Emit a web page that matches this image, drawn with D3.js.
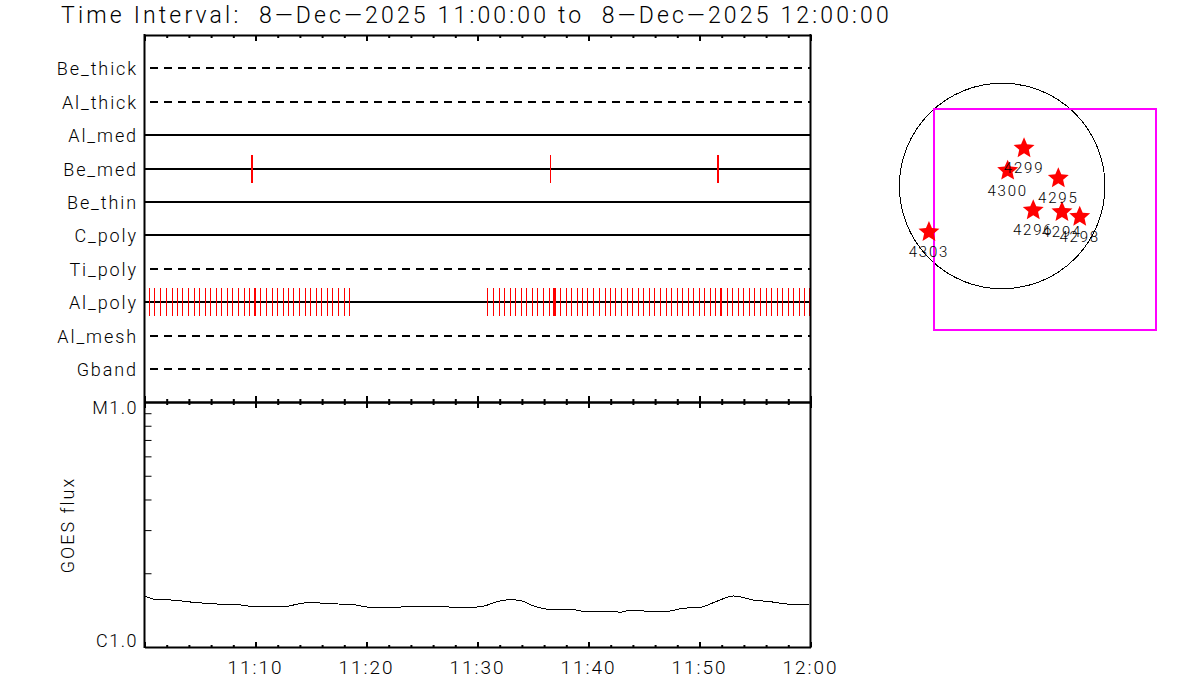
<!DOCTYPE html>
<html>
<head>
<meta charset="utf-8">
<script src="https://cdn.jsdelivr.net/npm/d3@7"></script>
<style>
  body { margin: 0; background: #fff; }
  text { font-family: "Roboto", "Liberation Sans", sans-serif; font-weight: 300; fill: #000; white-space: pre; }
  .axis path, .axis line { stroke: #000; }
  .axis text { display: none; }
</style>
</head>
<body>
<div id="chart"></div>
<script>
// time values are minutes after 11:00
var titleText = "Time Interval:  8-Dec-2025 11:00:00 to  8-Dec-2025 12:00:00".replace(/-/g, "\u2014");

var rows = ["Be_thick", "Al_thick", "Al_med", "Be_med", "Be_thin", "C_poly", "Ti_poly", "Al_poly", "Al_mesh", "Gband"];
var dashedRows = ["Be_thick", "Al_thick", "Ti_poly", "Al_mesh", "Gband"];

var beMedThick = [9.62, 9.70, 51.66, 51.72];
var beMedThin = [36.6];
var alPolyTimes = [
  0.43, 0.92, 1.42, 1.96, 2.48, 2.95, 3.44, 3.95, 4.49, 4.97, 5.48, 5.96, 6.47, 6.98, 7.50, 7.97, 8.49, 8.99, 9.44,
  9.92, 10.0, 10.43, 10.97, 11.49, 11.96, 12.48, 12.95, 13.44, 13.98, 14.46, 14.97, 15.48, 15.99, 16.47, 16.98, 17.46, 18.0, 18.49,
  30.88, 31.42, 31.96, 32.41, 32.95, 33.41, 33.95, 34.40, 34.91, 35.39, 35.93, 36.47, 36.85, 36.92, 37.0,
  37.46, 38.0, 38.45, 38.99, 39.44, 39.95, 40.43, 40.97, 41.51, 41.96, 42.47, 42.95, 43.49, 43.94, 44.48, 44.93, 45.48,
  45.93, 46.47, 47.01, 47.46, 48.0, 48.45, 48.99, 49.44, 49.98, 50.43, 50.97, 51.42, 51.90, 51.98,
  52.50, 52.95, 53.49, 53.95, 54.49, 54.94, 55.48, 56.02, 56.47, 57.01, 57.46, 58.0, 58.45, 58.99, 59.44, 59.95
];

var goesTimes = [0.05, 0.95, 2.45, 4.4, 6.5, 8.45, 9.65, 11.45, 12.8, 13.7, 15.05, 16.4, 18.5, 20.45, 22.4, 24.5, 26.45, 28.7,
  29.3, 30.5, 31.75, 32.9, 33.8, 35.0, 36.5, 38.5, 39.55, 42.25, 42.85, 43.75, 45.55, 47.05, 48.55, 50.05, 51.55, 53.05, 54.85, 56.35, 57.85, 58.75, 59.9];
var goesFlux = [1.615, 1.565, 1.555, 1.522, 1.498, 1.488, 1.466, 1.466, 1.466, 1.494, 1.522, 1.502, 1.494, 1.452, 1.452, 1.466, 1.461, 1.452,
  1.452, 1.466, 1.531, 1.56, 1.55, 1.474, 1.425, 1.425, 1.399, 1.399, 1.386, 1.412, 1.399, 1.399, 1.439, 1.452, 1.536, 1.615, 1.555, 1.531, 1.498, 1.484, 1.484];

var majorTicks = [0, 10, 20, 30, 40, 50, 60];
var minorTicks = [2, 4, 6, 8, 12, 14, 16, 18, 22, 24, 26, 28, 32, 34, 36, 38, 42, 44, 46, 48, 52, 54, 56, 58];
var timeLabels = ["", "11:10", "11:20", "11:30", "11:40", "11:50", "12:00"];
var fluxMinorTicks = [2, 3, 4, 5, 6, 7, 8, 9];

// active regions, arcsec from disk centre
var regionNames = ["4299", "4300", "4295", "4296", "4294", "4298", "4303"];
var regionX = [204, 51, 524, 290, 558, 724, -684];
var regionY = [352, 143, 72, -227, -243, -287, -430];
var sunRadius = 960;
var fovX = [-640, 1436];
var fovY = [-1345, 722];

var svg = d3.select("#chart")
  .append("svg")
  .attr("width", 1200)
  .attr("height", 700)
  .style("display", "block");

var x = d3.scaleLinear().domain([0, 60]).range([144.5, 810.5]);
var yRow = d3.scalePoint().domain(rows).range([68.2, 369.16]);
var yFlux = d3.scaleLog().domain([1, 10]).range([647, 402]);
var sunX = d3.scaleLinear().domain([-sunRadius, sunRadius]).range([899.4, 1105]);
var sunY = d3.scaleLinear().domain([-sunRadius, sunRadius]).range([288.8, 83.2]);

svg.append("text")
  .attr("x", 61)
  .attr("y", 23)
  .attr("font-size", 23)
  .attr("letter-spacing", 3.17)
  .text(titleText);

// filter rows
var rowLines = svg.append("g").attr("shape-rendering", "crispEdges");
rowLines.selectAll("line")
  .data(rows)
  .enter()
  .append("line")
  .attr("x1", x(0))
  .attr("x2", x(60))
  .attr("y1", d => Math.round(yRow(d)))
  .attr("y2", d => Math.round(yRow(d)))
  .attr("stroke", "#000")
  .attr("stroke-width", 2)
  .attr("stroke-dasharray", d => dashedRows.includes(d) ? "8,6" : null)
  .attr("stroke-dashoffset", -5);

svg.selectAll(".rowLabel")
  .data(rows)
  .enter()
  .append("text")
  .attr("class", "rowLabel")
  .attr("x", 138)
  .attr("y", d => yRow(d) + 7)
  .attr("text-anchor", "end")
  .attr("font-size", 18)
  .attr("letter-spacing", 1.9)
  .text(d => d);

// exposure marks
function drawMarks(times, row, halfHeight) {
  svg.append("g")
    .attr("shape-rendering", "crispEdges")
    .selectAll("line")
    .data(times)
    .enter()
    .append("line")
    .attr("x1", d => Math.floor(x(d)) + 0.5)
    .attr("x2", d => Math.floor(x(d)) + 0.5)
    .attr("y1", Math.round(yRow(row)) - halfHeight)
    .attr("y2", Math.round(yRow(row)) + halfHeight)
    .attr("stroke", "#f00")
    .attr("stroke-width", 1);
}
drawMarks(alPolyTimes, "Al_poly", 14);
drawMarks(beMedThick, "Be_med", 14);
drawMarks(beMedThin, "Be_med", 14);

// goes curve
var goesLine = d3.line()
  .x((d, i) => x(goesTimes[i]))
  .y(d => yFlux(d))
  .curve(d3.curveMonotoneX);

svg.append("path")
  .datum(goesFlux)
  .attr("d", goesLine)
  .attr("fill", "none")
  .attr("stroke", "#000")
  .attr("stroke-width", 1)
  .attr("shape-rendering", "crispEdges");

// axes
function timeAxis(axisFn, y, minorSize, majorSize) {
  svg.append("g")
    .attr("class", "axis")
    .attr("transform", `translate(0, ${y})`)
    .call(axisFn(x).tickValues(minorTicks).tickSize(minorSize).tickSizeOuter(0))
    .call(g => g.select(".domain").attr("stroke-width", 2))
    .call(g => g.selectAll("line").attr("stroke-width", 2));
  svg.append("g")
    .attr("class", "axis")
    .attr("transform", `translate(0, ${y})`)
    .call(axisFn(x).tickValues(majorTicks).tickSize(majorSize).tickSizeOuter(0))
    .call(g => g.select(".domain").remove())
    .call(g => g.selectAll("line").attr("stroke-width", 2));
}
timeAxis(d3.axisBottom, 35, 3, 6);
timeAxis(d3.axisTop, 402, 3, 6);
timeAxis(d3.axisBottom, 402, 3, 6);
timeAxis(d3.axisTop, 647, 2, 5);

svg.append("g")
  .attr("class", "axis")
  .attr("transform", `translate(${x(0)}, 0)`)
  .call(d3.axisRight(yFlux).tickValues(fluxMinorTicks).tickSize(7).tickSizeOuter(0))
  .call(g => g.select(".domain").remove());

[x(0), x(60)].forEach(px => {
  svg.append("line")
    .attr("x1", px).attr("x2", px)
    .attr("y1", 34).attr("y2", 648)
    .attr("stroke", "#000")
    .attr("stroke-width", 2);
});

svg.selectAll(".timeLabel")
  .data(majorTicks)
  .enter()
  .append("text")
  .attr("class", "timeLabel")
  .attr("x", d => x(d))
  .attr("y", 674)
  .attr("text-anchor", "middle")
  .attr("font-size", 19)
  .attr("letter-spacing", 2)
  .text((d, i) => timeLabels[i]);

svg.selectAll(".fluxLabel")
  .data([["M1.0", 414], ["C1.0", 647]])
  .enter()
  .append("text")
  .attr("class", "fluxLabel")
  .attr("x", 138)
  .attr("y", d => d[1])
  .attr("text-anchor", "end")
  .attr("font-size", 18)
  .attr("letter-spacing", 1.5)
  .text(d => d[0]);

svg.append("text")
  .attr("transform", "translate(74, 525) rotate(-90)")
  .attr("text-anchor", "middle")
  .attr("font-size", 18)
  .attr("letter-spacing", 2)
  .text("GOES flux");

// sun disk
svg.append("circle")
  .attr("cx", sunX(0))
  .attr("cy", sunY(0))
  .attr("r", sunX(sunRadius) - sunX(0))
  .attr("fill", "none")
  .attr("stroke", "#000")
  .attr("stroke-width", 1)
  .attr("shape-rendering", "crispEdges");

svg.append("rect")
  .attr("x", sunX(fovX[0]))
  .attr("y", sunY(fovY[1]))
  .attr("width", sunX(fovX[1]) - sunX(fovX[0]))
  .attr("height", sunY(fovY[0]) - sunY(fovY[1]))
  .attr("fill", "none")
  .attr("stroke", "#f0f")
  .attr("stroke-width", 2)
  .attr("shape-rendering", "crispEdges");

// d3's star is too thin here, same shape with a fatter middle
var fatStar = {
  draw: function(context, size) {
    var r = Math.sqrt(size);
    for (var i = 0; i < 10; i++) {
      var a = i * Math.PI / 5;
      var rad = i % 2 ? r * 0.46 : r;
      var px = rad * Math.sin(a);
      var py = -rad * Math.cos(a);
      if (i === 0) context.moveTo(px, py);
      else context.lineTo(px, py);
    }
    context.closePath();
  }
};
var star = d3.symbol().type(fatStar).size(121);

svg.selectAll(".region")
  .data(regionNames)
  .enter()
  .append("path")
  .attr("class", "region")
  .attr("d", star)
  .attr("transform", (d, i) => `translate(${sunX(regionX[i])}, ${sunY(regionY[i])})`)
  .attr("fill", "#f00");

svg.selectAll(".regionLabel")
  .data(regionNames)
  .enter()
  .append("text")
  .attr("class", "regionLabel")
  .attr("x", (d, i) => sunX(regionX[i]))
  .attr("y", (d, i) => sunY(regionY[i]) + 25)
  .attr("text-anchor", "middle")
  .attr("font-size", 15)
  .attr("letter-spacing", 1.8)
  .text(d => d);
</script>
</body>
</html>
